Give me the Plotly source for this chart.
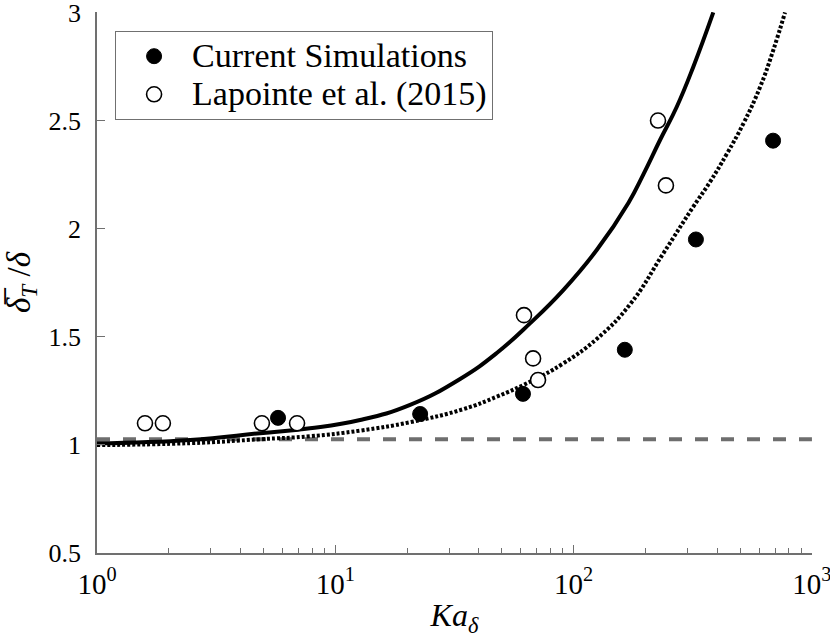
import plotly.graph_objects as go

# Current simulations (filled markers)
sim_ka = [5.75, 22.7, 61.3, 164, 326, 687]
sim_ratio = [1.125, 1.143, 1.236, 1.44, 1.95, 2.407]

# Lapointe et al. (2015) (open markers)
lap_ka = [1.59, 1.89, 4.92, 6.91, 61.9, 67.6, 70.9, 226, 244]
lap_ratio = [1.10, 1.10, 1.10, 1.10, 1.60, 1.40, 1.30, 2.50, 2.20]

# solid fit curve
solid_ka = [1, 2.46, 4.83, 7.83, 12.7, 20.6, 33.4, 47.6, 65.6, 90.5, 125, 170, 196, 230.5, 271, 318, 385.6]
solid_ratio = [1.007, 1.023, 1.054, 1.077, 1.115, 1.185, 1.305, 1.425, 1.562, 1.716, 1.901, 2.12, 2.25, 2.41, 2.564, 2.749, 3.0]

# dotted fit curve
dot_ka = [1, 2.46, 4.83, 7.83, 12.7, 20.6, 34.4, 47.6, 65.6, 90.5, 125, 172.5, 238, 318, 373, 439, 515, 606, 689, 771]
dot_ratio = [0.999, 1.008, 1.026, 1.040, 1.066, 1.105, 1.165, 1.223, 1.292, 1.377, 1.49, 1.65, 1.886, 2.102, 2.215, 2.345, 2.485, 2.655, 2.827, 3.0]

# horizontal reference level
ref_ka = [1, 1000]
ref_ratio = [1.026, 1.026]

x_tickvals = [1, 10, 100, 1000]
x_ticktext = ['10<sup>0</sup>', '10<sup>1</sup>', '10<sup>2</sup>', '10<sup>3</sup>']
y_tickvals = [0.5, 1, 1.5, 2, 2.5, 3]
y_ticktext = ['0.5', '1', '1.5', '2', '2.5', '3']

minor_vals = [k * 10 ** e for e in range(3) for k in range(2, 10)]

font = 'Liberation Serif'
axcol = '#707070'
# legend rows are spaced by the legend font size, the text itself is drawn larger
big = '<span style="font-size:34px">%s</span>'

fig = go.Figure()
fig.add_trace(go.Scatter(x=ref_ka, y=ref_ratio, mode='lines', showlegend=False,
                         line=dict(color='#6e6e6e', width=4, dash='13px,13px')))
fig.add_trace(go.Scatter(x=solid_ka, y=solid_ratio, mode='lines', showlegend=False,
                         line=dict(color='black', width=4, shape='spline', smoothing=1.3)))
fig.add_trace(go.Scatter(x=dot_ka, y=dot_ratio, mode='lines', showlegend=False,
                         line=dict(color='black', width=4, dash='3px,2px', shape='spline', smoothing=1.3)))
fig.add_trace(go.Scatter(x=sim_ka, y=sim_ratio, mode='markers', name=big % 'Current Simulations',
                         marker=dict(symbol='circle', size=15, color='black', line=dict(color='black', width=1))))
fig.add_trace(go.Scatter(x=lap_ka, y=lap_ratio, mode='markers', name=big % 'Lapointe et al. (2015)',
                         marker=dict(symbol='circle', size=15, color='white', line=dict(color='black', width=1.6))))

fig.update_layout(
    width=830, height=638,
    margin=dict(l=97, r=18, t=12, b=85),
    paper_bgcolor='white', plot_bgcolor='white',
    font=dict(family=font, size=26, color='black'),
    legend=dict(x=0.025, y=0.965, xanchor='left', yanchor='top',
                bgcolor='white', bordercolor=axcol, borderwidth=1.2,
                itemwidth=66, tracegroupgap=0,
                font=dict(family=font, size=27, color='black')),
    xaxis=dict(type='log', range=[0, 3.0003], tickvals=x_tickvals, ticktext=x_ticktext,
               showline=True, linecolor=axcol, linewidth=1.5, mirror=False,
               ticks='inside', ticklen=8, tickcolor=axcol, tickwidth=1,
               ticklabelstandoff=4, ticklabeloverflow='allow', automargin=False,
               tickfont=dict(family=font, size=29),
               showgrid=False, zeroline=False,
               minor=dict(tickvals=minor_vals, ticks='inside', ticklen=5, tickcolor=axcol, showgrid=False),
               title=dict(text='<i>Ka<sub>δ</sub></i>', font=dict(family=font, size=32), standoff=5)),
    yaxis=dict(range=[0.5, 3.002], tickvals=y_tickvals, ticktext=y_ticktext,
               showline=True, linecolor=axcol, linewidth=1.5, mirror=False,
               ticks='inside', ticklen=8, tickcolor=axcol, tickwidth=1,
               ticklabelstandoff=9, ticklabeloverflow='allow', automargin=False,
               showgrid=False, zeroline=False,
               title=dict(text='<i>δ\u0305<sub>T</sub></i> /<i>δ</i>', font=dict(family=font, size=33), standoff=8)),
)

# drop the default page margin so the figure fills the window
fig.write_html('out.html', config={'displayModeBar': False},
               post_script="document.body.style.margin='0';")
